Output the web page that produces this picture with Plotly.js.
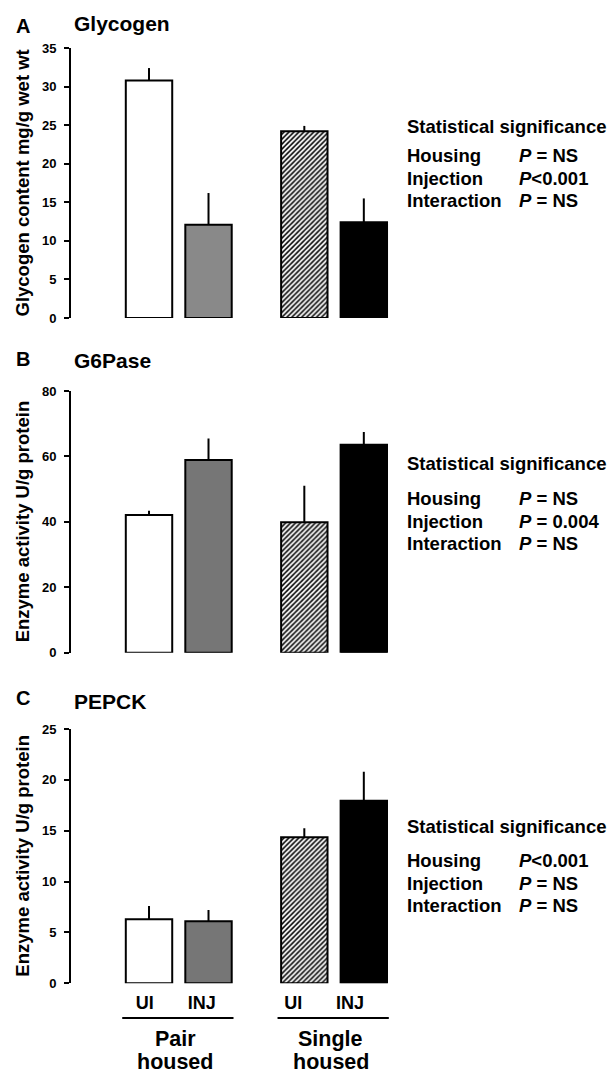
<!DOCTYPE html>
<html><head><meta charset="utf-8">
<script src="https://cdn.plot.ly/plotly-3.0.1.min.js"></script>
<style>html,body{margin:0;padding:0;background:#fff}#chart{width:613px;height:1074px}</style>
</head><body><div id="chart"></div>
<script>
// ---- data ----
const treatments = ['UI', 'INJ', 'UI', 'INJ'];
const housingLine1 = ['Pair', 'Single'];
const housingLine2 = ['housed', 'housed'];
const glycogenMean = [30.8, 12.1, 24.2, 12.4];
const glycogenSEM  = [1.6, 4.1, 0.7, 3.1];
const g6paseMean   = [42.1, 58.9, 39.9, 63.6];
const g6paseSEM    = [1.3, 6.6, 11.1, 3.9];
const pepckMean    = [6.3, 6.1, 14.35, 17.95];
const pepckSEM     = [1.3, 1.1, 0.9, 2.85];
const panelLetters = ['A', 'B', 'C'];
const panelTitles  = ['Glycogen', 'G6Pase', 'PEPCK'];
const yTitles = ['Glycogen content mg/g wet wt', 'Enzyme activity U/g protein', 'Enzyme activity U/g protein'];
const yTickStep = [5, 20, 5];
const yMax = [35, 80, 25];
const statLabels = ['Housing', 'Injection', 'Interaction'];
const statsA = ['<i>P</i> = NS', '<i>P</i><0.001', '<i>P</i> = NS'];
const statsB = ['<i>P</i> = NS', '<i>P</i> = 0.004', '<i>P</i> = NS'];
const statsC = ['<i>P</i><0.001', '<i>P</i> = NS', '<i>P</i> = NS'];

// ---- layout helpers ----
const W = 613, H = 1074;
const px = v => v / W;
const py = v => 1 - v / H;
const FONT = 'Arial, "Liberation Sans", sans-serif';
const groupSpacing = 2.61;
const xpos = treatments.map((t, i) => Math.floor(i / 2) * groupSpacing + (i % 2));
const labelPos = xpos.map(v => v * 0.955 - 0.07);

const panels = [
  {mean: glycogenMean, sem: glycogenSEM, gray: '#898989', top: 48, bottom: 318, stats: statsA, statY: [126, 156, 178, 200], letterY: 26, titleY: 23},
  {mean: g6paseMean, sem: g6paseSEM, gray: '#767676', top: 391, bottom: 652.7, stats: statsB, statY: [463, 498, 521, 543], letterY: 359, titleY: 361},
  {mean: pepckMean, sem: pepckSEM, gray: '#767676', top: 729, bottom: 983.3, stats: statsC, statY: [826, 860, 883, 905], letterY: 698, titleY: 701}
];
const barFill = g => ['#ffffff', g, '#ffffff', '#000000'];
const barPattern = ['', '', '/', ''];

const data = [];
const layout = {
  width: W, height: H, margin: {l: 0, r: 0, t: 0, b: 0},
  paper_bgcolor: '#fff', plot_bgcolor: '#fff', showlegend: false,
  font: {family: FONT, color: '#000'},
  annotations: [], shapes: [], barmode: 'overlay'
};

panels.forEach((p, k) => {
  const sfx = k === 0 ? '' : String(k + 1);
  p.mean.forEach((m, i) => {
    const marker = {color: barFill(p.gray)[i], line: {color: '#000', width: 2}};
    if (barPattern[i]) marker.pattern = {shape: barPattern[i], fgcolor: '#000', bgcolor: '#ffffff', size: 3.5, solidity: 0.45, fillmode: 'replace'};
    data.push({
      type: 'bar', x: [xpos[i]], y: [m], width: 0.78,
      xaxis: 'x' + sfx, yaxis: 'y' + sfx, cliponaxis: false,
      marker: marker,
      error_y: {type: 'data', symmetric: false, array: [p.sem[i]], arrayminus: [0],
        color: '#000', thickness: 2, width: 0},
      hoverinfo: 'skip'
    });
  });
  const isBottom = k === 2;
  layout['xaxis' + sfx] = {
    domain: [px(71), px(395)], range: [-1.311, 4.134], anchor: 'y' + sfx,
    showgrid: false, zeroline: false, showline: false, ticks: '',
    tickmode: 'array', tickvals: labelPos, ticktext: treatments.map(t => '<b>' + t + '</b>'),
    showticklabels: isBottom, ticklabelstandoff: 7,
    tickfont: {family: FONT, size: 18, color: '#000'}
  };
  const tv = [];
  for (let v = 0; v <= yMax[k]; v += yTickStep[k]) tv.push(v);
  layout['yaxis' + sfx] = {
    domain: [py(p.bottom), py(p.top)], range: [0, yMax[k]], anchor: 'x' + sfx,
    showgrid: false, zeroline: false, showline: true, linecolor: '#000', linewidth: 2,
    ticks: 'outside', ticklen: 5, tickwidth: 2, tickcolor: '#000', ticklabelstandoff: 5,
    tickmode: 'array', tickvals: tv, ticktext: tv.map(v => '<b>' + v + '</b>'),
    tickfont: {family: FONT, size: 13, color: '#000'}
  };
  // panel letter + title
  layout.annotations.push({xref: 'paper', yref: 'paper', x: px(23), y: py(p.letterY), xanchor: 'center', yanchor: 'middle',
    text: '<b>' + panelLetters[k] + '</b>', showarrow: false, font: {family: FONT, size: 20}});
  layout.annotations.push({xref: 'paper', yref: 'paper', x: px(72), y: py(p.titleY), xanchor: 'left', yanchor: 'middle',
    text: '<b>' + panelTitles[k] + '</b>', showarrow: false, font: {family: FONT, size: 21}});
  // y title
  layout.annotations.push({xref: 'paper', yref: 'paper', x: px(22.5), y: py((p.top + p.bottom) / 2), xanchor: 'center', yanchor: 'middle',
    textangle: -90, text: '<b>' + yTitles[k] + '</b>', showarrow: false, font: {family: FONT, size: 18.5}});
  // stats
  layout.annotations.push({xref: 'paper', yref: 'paper', x: px(405), y: py(p.statY[0]), xanchor: 'left', yanchor: 'middle',
    text: '<b>Statistical significance</b>', showarrow: false, font: {family: FONT, size: 18.5}});
  statLabels.forEach((lab, j) => {
    layout.annotations.push({xref: 'paper', yref: 'paper', x: px(405), y: py(p.statY[j + 1]), xanchor: 'left', yanchor: 'middle',
      text: '<b>' + lab + '</b>', showarrow: false, font: {family: FONT, size: 18.5}});
    layout.annotations.push({xref: 'paper', yref: 'paper', x: px(517), y: py(p.statY[j + 1]), xanchor: 'left', yanchor: 'middle',
      text: '<b>' + p.stats[j] + '</b>', showarrow: false, font: {family: FONT, size: 18.5}});
  });
});

// group underlines and group labels (bottom panel)
housingLine1.forEach((g, gi) => {
  const x0 = gi * groupSpacing - 0.45, x1 = gi * groupSpacing + 1.42;
  layout.shapes.push({type: 'line', xref: 'x3', yref: 'paper', x0: x0, x1: x1, y0: py(1018), y1: py(1018),
    line: {color: '#000', width: 2}});
  const cx = gi * groupSpacing + 0.44;
  layout.annotations.push({xref: 'x3', yref: 'paper', x: cx, y: py(1039), xanchor: 'center', yanchor: 'middle',
    text: '<b>' + g + '</b>', showarrow: false, font: {family: FONT, size: 21.5}});
  layout.annotations.push({xref: 'x3', yref: 'paper', x: cx, y: py(1062), xanchor: 'center', yanchor: 'middle',
    text: '<b>' + housingLine2[gi] + '</b>', showarrow: false, font: {family: FONT, size: 21.5}});
});

Plotly.newPlot('chart', data, layout, {staticPlot: true, displayModeBar: false});
</script></body></html>
